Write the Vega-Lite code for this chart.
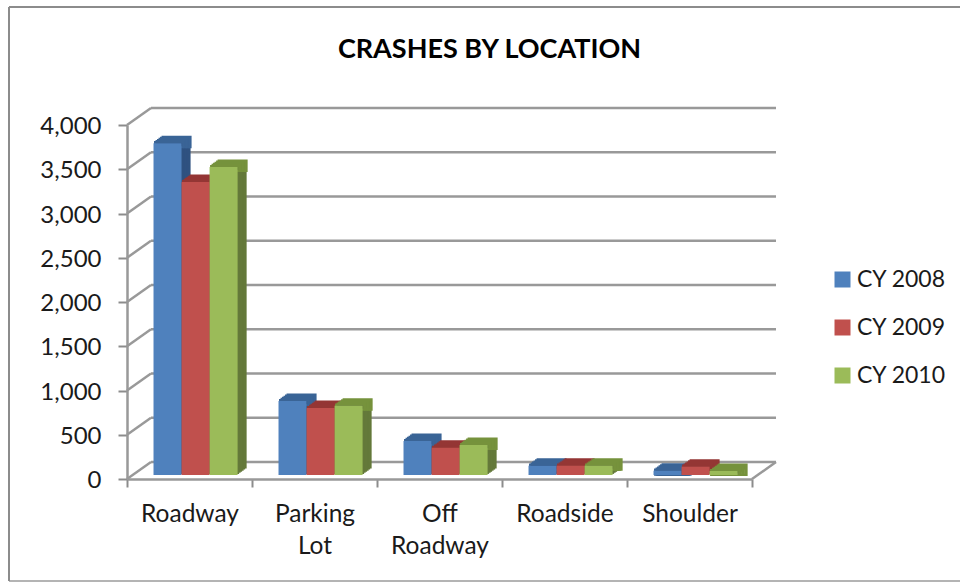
{"$schema":"https://vega.github.io/schema/vega-lite/v6.json","width":625,"height":354,"padding":{"left":127,"top":125,"right":208,"bottom":104},"autosize":"none","background":"white","title":{"text":"CRASHES BY LOCATION","font":"Lato","fontSize":27,"fontWeight":"bold","color":"#000000","anchor":"middle","dx":50,"offset":-58},"datasets":{"rows":[{"loc":"Roadway","series":"CY 2008","v":3750},{"loc":"Roadway","series":"CY 2009","v":3310},{"loc":"Roadway","series":"CY 2010","v":3480},{"loc":"Parking Lot","series":"CY 2008","v":836},{"loc":"Parking Lot","series":"CY 2009","v":757},{"loc":"Parking Lot","series":"CY 2010","v":783},{"loc":"Off Roadway","series":"CY 2008","v":384},{"loc":"Off Roadway","series":"CY 2009","v":308},{"loc":"Off Roadway","series":"CY 2010","v":339},{"loc":"Roadside","series":"CY 2008","v":105},{"loc":"Roadside","series":"CY 2009","v":105},{"loc":"Roadside","series":"CY 2010","v":105},{"loc":"Shoulder","series":"CY 2008","v":49},{"loc":"Shoulder","series":"CY 2009","v":94},{"loc":"Shoulder","series":"CY 2010","v":45}],"ticks":[{"t":0},{"t":500},{"t":1000},{"t":1500},{"t":2000},{"t":2500},{"t":3000},{"t":3500},{"t":4000}],"floor":[{"t":0}]},"layer":[{"data":{"name":"ticks"},"mark":{"type":"rule","color":"#999999","strokeWidth":2.5,"xOffset":24,"x2Offset":86.5,"yOffset":-17},"encoding":{"x":{"datum":"Roadway","bandPosition":0,"scale":{"domain":["Roadway","Parking Lot","Off Roadway","Roadside","Shoulder"],"padding":0},"axis":{"title":null,"labelAngle":0,"labelFont":"Lato","labelFontSize":24.5,"labelColor":"#1a1a1a","domainColor":"#999999","tickColor":"#8c8c8c","domainWidth":2.5,"tickWidth":2,"tickSize":8,"tickBand":"extent","labelPadding":15,"labelExpr":"split(datum.label,' ')","labelLineHeight":32}},"x2":{"datum":"Shoulder"},"y":{"field":"t","type":"quantitative","scale":{"domain":[0,4000]},"axis":{"values":[0,500,1000,1500,2000,2500,3000,3500,4000],"format":",.0f","title":null,"labelFont":"Lato","labelFontSize":24,"labelColor":"#1a1a1a","labelOffset":1.5,"domainColor":"#999999","tickColor":"#8c8c8c","domainWidth":2.5,"tickWidth":2,"tickSize":9,"grid":false,"labelPadding":17}}}},{"data":{"name":"ticks"},"mark":{"type":"rule","color":"#999999","strokeWidth":2.5,"x2Offset":-38.5,"y2Offset":-17},"encoding":{"x":{"datum":"Roadway","bandPosition":0},"x2":{"datum":"Roadway"},"y":{"field":"t","type":"quantitative"},"y2":{"field":"t"}}},{"data":{"name":"floor"},"mark":{"type":"rule","color":"#999999","strokeWidth":2.5,"x2Offset":86.5,"y2Offset":-17},"encoding":{"x":{"datum":"Shoulder","bandPosition":1},"x2":{"datum":"Shoulder"},"y":{"field":"t","type":"quantitative"},"y2":{"field":"t"}}},{"data":{"name":"rows"},"mark":{"type":"bar","yOffset":-10.5},"encoding":{"x":{"field":"loc","type":"nominal","sort":null},"xOffset":{"field":"series","scale":{"paddingInner":0,"paddingOuter":0.73,"align":0.869}},"y":{"field":"v","type":"quantitative"},"fill":{"field":"series","legend":null,"scale":{"domain":["CY 2010","CY 2009","CY 2008"],"range":["#64793A","#8C3836","#2F5280"]}}}},{"data":{"name":"rows"},"mark":{"type":"bar","yOffset":-10.5,"strokeWidth":2,"fillOpacity":0},"encoding":{"x":{"field":"loc","type":"nominal","sort":null},"xOffset":{"field":"series","scale":{"paddingInner":0,"paddingOuter":0.73,"align":0.869}},"y":{"field":"v","type":"quantitative"},"y2":{"field":"v"},"stroke":{"field":"series","legend":null,"scale":{"domain":["CY 2009","CY 2008","CY 2010"],"range":["#943634","#3A6496","#76923C"]}}}},{"data":{"name":"rows"},"mark":{"type":"bar","yOffset":-9.4},"encoding":{"x":{"field":"loc","type":"nominal","sort":null},"xOffset":{"field":"series","scale":{"paddingInner":0,"paddingOuter":0.73,"align":0.832}},"y":{"field":"v","type":"quantitative"},"fill":{"field":"series","legend":null}}},{"data":{"name":"rows"},"mark":{"type":"bar","yOffset":-9.4,"strokeWidth":2,"fillOpacity":0},"encoding":{"x":{"field":"loc","type":"nominal","sort":null},"xOffset":{"field":"series","scale":{"paddingInner":0,"paddingOuter":0.73,"align":0.832}},"y":{"field":"v","type":"quantitative"},"y2":{"field":"v"},"stroke":{"field":"series","legend":null}}},{"data":{"name":"rows"},"mark":{"type":"bar","yOffset":-8.3},"encoding":{"x":{"field":"loc","type":"nominal","sort":null},"xOffset":{"field":"series","scale":{"paddingInner":0,"paddingOuter":0.73,"align":0.795}},"y":{"field":"v","type":"quantitative"},"fill":{"field":"series","legend":null}}},{"data":{"name":"rows"},"mark":{"type":"bar","yOffset":-8.3,"strokeWidth":2,"fillOpacity":0},"encoding":{"x":{"field":"loc","type":"nominal","sort":null},"xOffset":{"field":"series","scale":{"paddingInner":0,"paddingOuter":0.73,"align":0.795}},"y":{"field":"v","type":"quantitative"},"y2":{"field":"v"},"stroke":{"field":"series","legend":null}}},{"data":{"name":"rows"},"mark":{"type":"bar","yOffset":-7.2},"encoding":{"x":{"field":"loc","type":"nominal","sort":null},"xOffset":{"field":"series","scale":{"paddingInner":0,"paddingOuter":0.73,"align":0.758}},"y":{"field":"v","type":"quantitative"},"fill":{"field":"series","legend":null}}},{"data":{"name":"rows"},"mark":{"type":"bar","yOffset":-7.2,"strokeWidth":2,"fillOpacity":0},"encoding":{"x":{"field":"loc","type":"nominal","sort":null},"xOffset":{"field":"series","scale":{"paddingInner":0,"paddingOuter":0.73,"align":0.758}},"y":{"field":"v","type":"quantitative"},"y2":{"field":"v"},"stroke":{"field":"series","legend":null}}},{"data":{"name":"rows"},"mark":{"type":"bar","yOffset":-6.2},"encoding":{"x":{"field":"loc","type":"nominal","sort":null},"xOffset":{"field":"series","scale":{"paddingInner":0,"paddingOuter":0.73,"align":0.722}},"y":{"field":"v","type":"quantitative"},"fill":{"field":"series","legend":null}}},{"data":{"name":"rows"},"mark":{"type":"bar","yOffset":-6.2,"strokeWidth":2,"fillOpacity":0},"encoding":{"x":{"field":"loc","type":"nominal","sort":null},"xOffset":{"field":"series","scale":{"paddingInner":0,"paddingOuter":0.73,"align":0.722}},"y":{"field":"v","type":"quantitative"},"y2":{"field":"v"},"stroke":{"field":"series","legend":null}}},{"data":{"name":"rows"},"mark":{"type":"bar","yOffset":-5.1},"encoding":{"x":{"field":"loc","type":"nominal","sort":null},"xOffset":{"field":"series","scale":{"paddingInner":0,"paddingOuter":0.73,"align":0.685}},"y":{"field":"v","type":"quantitative"},"fill":{"field":"series","legend":null}}},{"data":{"name":"rows"},"mark":{"type":"bar","yOffset":-5.1,"strokeWidth":2,"fillOpacity":0},"encoding":{"x":{"field":"loc","type":"nominal","sort":null},"xOffset":{"field":"series","scale":{"paddingInner":0,"paddingOuter":0.73,"align":0.685}},"y":{"field":"v","type":"quantitative"},"y2":{"field":"v"},"stroke":{"field":"series","legend":null}}},{"data":{"name":"rows"},"mark":{"type":"bar","yOffset":-4},"encoding":{"x":{"field":"loc","type":"nominal","sort":null},"xOffset":{"field":"series","scale":{"paddingInner":0,"paddingOuter":0.73,"align":0.648}},"y":{"field":"v","type":"quantitative"},"color":{"field":"series","legend":{"title":null,"orient":"none","legendX":704,"legendY":143,"labelFont":"Lato","labelFontSize":23,"labelColor":"#1a1a1a","symbolType":"square","symbolSize":256,"rowPadding":24,"labelOffset":3,"symbolStrokeWidth":0},"scale":{"domain":["CY 2008","CY 2009","CY 2010"],"range":["#4F81BD","#C0504D","#9BBB59"]}}}},{"data":{"name":"floor"},"mark":{"type":"rule","color":"#8c8c8c","strokeWidth":2,"xOffset":-118,"x2Offset":270.5,"yOffset":-118},"encoding":{"x":{"datum":"Roadway","bandPosition":0},"x2":{"datum":"Shoulder"},"y":{"datum":4000}}},{"data":{"name":"floor"},"mark":{"type":"rule","color":"#b4b4b4","strokeWidth":2,"xOffset":-118,"x2Offset":270.5,"yOffset":102},"encoding":{"x":{"datum":"Roadway","bandPosition":0},"x2":{"datum":"Shoulder"},"y":{"datum":0}}},{"data":{"name":"floor"},"mark":{"type":"rule","color":"#8c8c8c","strokeWidth":2,"xOffset":-118,"yOffset":-118,"y2Offset":102},"encoding":{"x":{"datum":"Roadway","bandPosition":0},"y":{"datum":4000},"y2":{"datum":0}}}],"resolve":{"scale":{"xOffset":"independent"}},"config":{"view":{"stroke":null}}}
